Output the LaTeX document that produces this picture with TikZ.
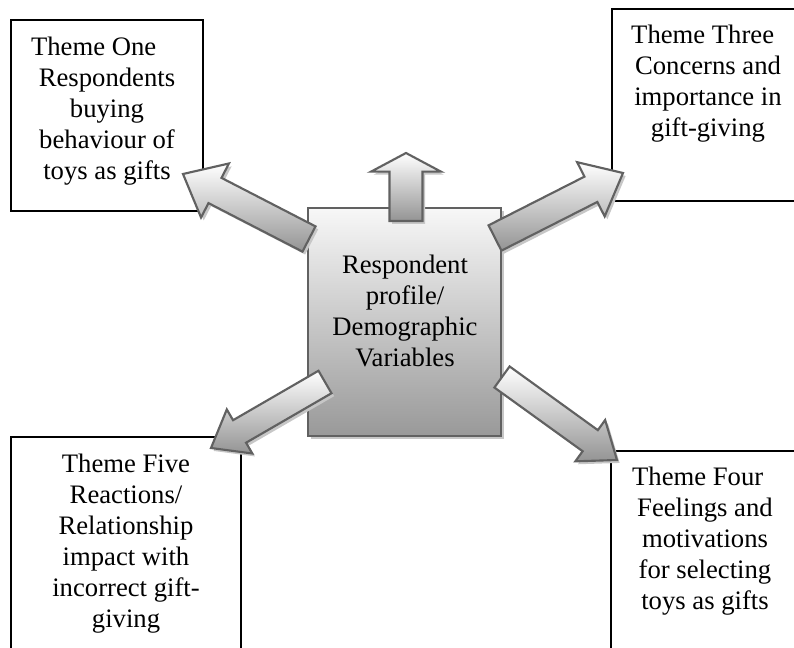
\documentclass[tikz,border=0pt]{standalone}
\usepackage{fontspec}
\setmainfont{Liberation Serif}
\usetikzlibrary{calc}

% block arrow: tail, tip, shaft half width, head half width, head length
\newcommand{\blockarrow}[5]{%
  \coordinate (hb) at ($(#2)!#5!(#1)$);
  \path[blockarrow]
    ($(#1)!#3!90:(#2)$) -- ($(hb)!#3!90:(#2)$) -- ($(hb)!#4!90:(#2)$) -- (#2)
    -- ($(hb)!#4!-90:(#2)$) -- ($(hb)!#3!-90:(#2)$) -- ($(#1)!#3!-90:(#2)$) -- cycle;
}

\tikzset{
  themebox/.style={draw=black, line width=1.2pt, fill=white, rectangle,
    inner sep=0pt, outer sep=0pt},
  themetext/.style={anchor=north, inner sep=0pt, align=center,
    font=\fontsize{20pt}{23.25pt}\selectfont},
  centerbox/.style={draw=black!62, line width=1.6pt, rectangle, inner sep=0pt,
    outer sep=0pt, top color=black!3, bottom color=black!40,
    preaction={fill=black!22, transform canvas={shift={(2.2pt,-2.2pt)}}}},
  blockarrow/.style={draw=black!62, line width=1.6pt, line join=miter,
    top color=white, bottom color=black!42,
    preaction={fill=black!22, transform canvas={shift={(2pt,-2.2pt)}}}},
}

\begin{document}
\begin{tikzpicture}[x=0.75pt, y=-0.75pt]
  \useasboundingbox (0,0) rectangle (794,648);
  \clip (0,0) rectangle (794,648);

  % theme boxes
  \node[themebox, minimum width=144pt, minimum height=143.25pt] (b1) at (107,115.5) {};
  \node[themebox, minimum width=144pt, minimum height=144pt] (b3) at (708,105) {};
  \node[themebox, minimum width=172.5pt, minimum height=168pt] (b5) at (126,549) {};
  \node[themebox, minimum width=145.5pt, minimum height=157.5pt] (b4) at (708,556) {};

  \node[themetext] (t1) at (107,37) {Theme One\hspace*{1em}\\Respondents\\buying\\behaviour of\\toys as gifts};
  \node[themetext] (t3) at (708,25) {Theme Three\hspace*{0.4em}\\Concerns and\\importance in\\gift-giving};
  \node[themetext] (t5) at (126,454) {Theme Five\\Reactions/\\Relationship\\impact with\\incorrect gift-\\giving};
  \node[themetext] (t4) at (705,467) {Theme Four\hspace*{0.55em}\\Feelings and\\motivations\\for selecting\\toys as gifts};

  % central box
  \node[centerbox, minimum width=144.75pt, minimum height=171pt] (c) at (404.5,322) {};
  \node[themetext] (ct) at (405,255) {Respondent\\profile/\\Demographic\\Variables};

  % arrow ends
  \coordinate (ulTail) at (309,239);
  \coordinate (ulTip)  at (183,174);
  \coordinate (urTail) at (495,238);
  \coordinate (urTip)  at (623,173);
  \coordinate (llTail) at (325,382);
  \coordinate (llTip)  at (211,448);
  \coordinate (lrTail) at (502,377);
  \coordinate (lrTip)  at (617,460);
  \coordinate (upTail) at (406,221);
  \coordinate (upTip)  at (406,153);

  \blockarrow{upTail}{upTip}{12.4pt}{26.25pt}{14pt}
  \blockarrow{ulTail}{ulTip}{10.65pt}{22.8pt}{27pt}
  \blockarrow{urTail}{urTip}{10.65pt}{22.8pt}{27pt}
  \blockarrow{llTail}{llTip}{9.75pt}{19.1pt}{24.75pt}
  \blockarrow{lrTail}{lrTip}{9.75pt}{19.1pt}{24.75pt}
\end{tikzpicture}
\end{document}
